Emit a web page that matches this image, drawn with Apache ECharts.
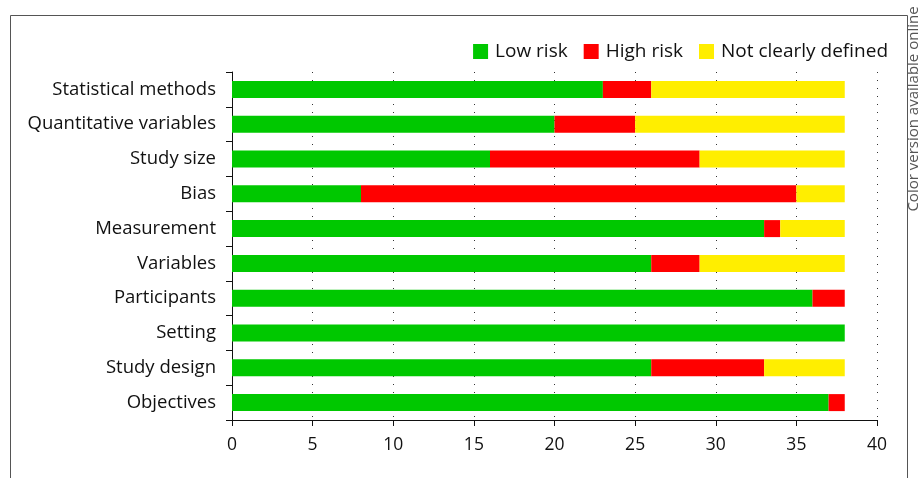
<!DOCTYPE html>
<html><head><meta charset="utf-8">
<script src="https://cdn.jsdelivr.net/npm/echarts@6/dist/echarts.min.js"></script>
<style>html,body{margin:0;padding:0;background:#fff}#c{width:922px;height:478px}</style>
</head><body><div id="c"></div>
<script>
const categories = ['Objectives', 'Study design', 'Setting', 'Participants', 'Variables', 'Measurement', 'Bias', 'Study size', 'Quantitative variables', 'Statistical methods'];
const lowRisk = [37, 26, 38, 36, 26, 33, 8, 16, 20, 23];
const highRisk = [1, 7, 0, 2, 3, 1, 27, 13, 5, 3];
const notDefined = [0, 5, 0, 0, 9, 4, 3, 9, 13, 12];
const xTicks = [0, 5, 10, 15, 20, 25, 30, 35, 40];

const font = '"Open Sans", "Noto Sans", sans-serif';
const chart = echarts.init(document.getElementById('c'), null, {renderer: 'canvas'});
function bar(name, data, color) {
  return {name, type: 'bar', stack: 'total', data, barWidth: 17,
    itemStyle: {color}, emphasis: {disabled: true}};
}
chart.setOption({
  animation: false,
  textStyle: {fontFamily: font},
  graphic: [
    {type: 'rect', shape: {x: 10.5, y: 15.5, width: 897, height: 520}, style: {fill: 'none', stroke: '#555', lineWidth: 1}, silent: true},
    {type: 'text', x: 914, y: 109, rotation: Math.PI / 2, style: {text: 'Color version available online', fill: '#555', font: '15px ' + font, textAlign: 'center', textVerticalAlign: 'middle'}, silent: true}
  ],
  legend: {
    right: 29, top: 37, itemWidth: 15, itemHeight: 15, itemGap: 16,
    icon: 'rect',
    textStyle: {fontSize: 19, color: '#111', fontFamily: font, padding: [0, 0, 0, 2]},
    data: ['Low risk', 'High risk', 'Not clearly defined']
  },
  grid: {left: 232, right: 45, top: 72, bottom: 58, containLabel: false},
  xAxis: {
    type: 'value', min: 0, max: 40, interval: 5,
    axisLine: {show: true, lineStyle: {color: '#111', width: 1}},
    axisTick: {show: true, length: 6, lineStyle: {color: '#111'}},
    axisLabel: {fontSize: 17.5, color: '#111', margin: 16, fontFamily: font,
      formatter: v => xTicks.includes(v) ? String(v) : ''},
    splitLine: {show: true, lineStyle: {color: '#333', width: 1, type: [1, 7]}}
  },
  yAxis: {
    type: 'category', data: categories,
    axisLine: {show: true, lineStyle: {color: '#111', width: 1}},
    axisTick: {show: true, length: 6, lineStyle: {color: '#111'}},
    axisLabel: {fontSize: 18.5, color: '#111', margin: 16, fontFamily: font},
    splitLine: {show: false}
  },
  series: [
    bar('Low risk', lowRisk, '#00c800'),
    bar('High risk', highRisk, '#ff0000'),
    bar('Not clearly defined', notDefined, '#ffee00')
  ]
});
</script></body></html>
